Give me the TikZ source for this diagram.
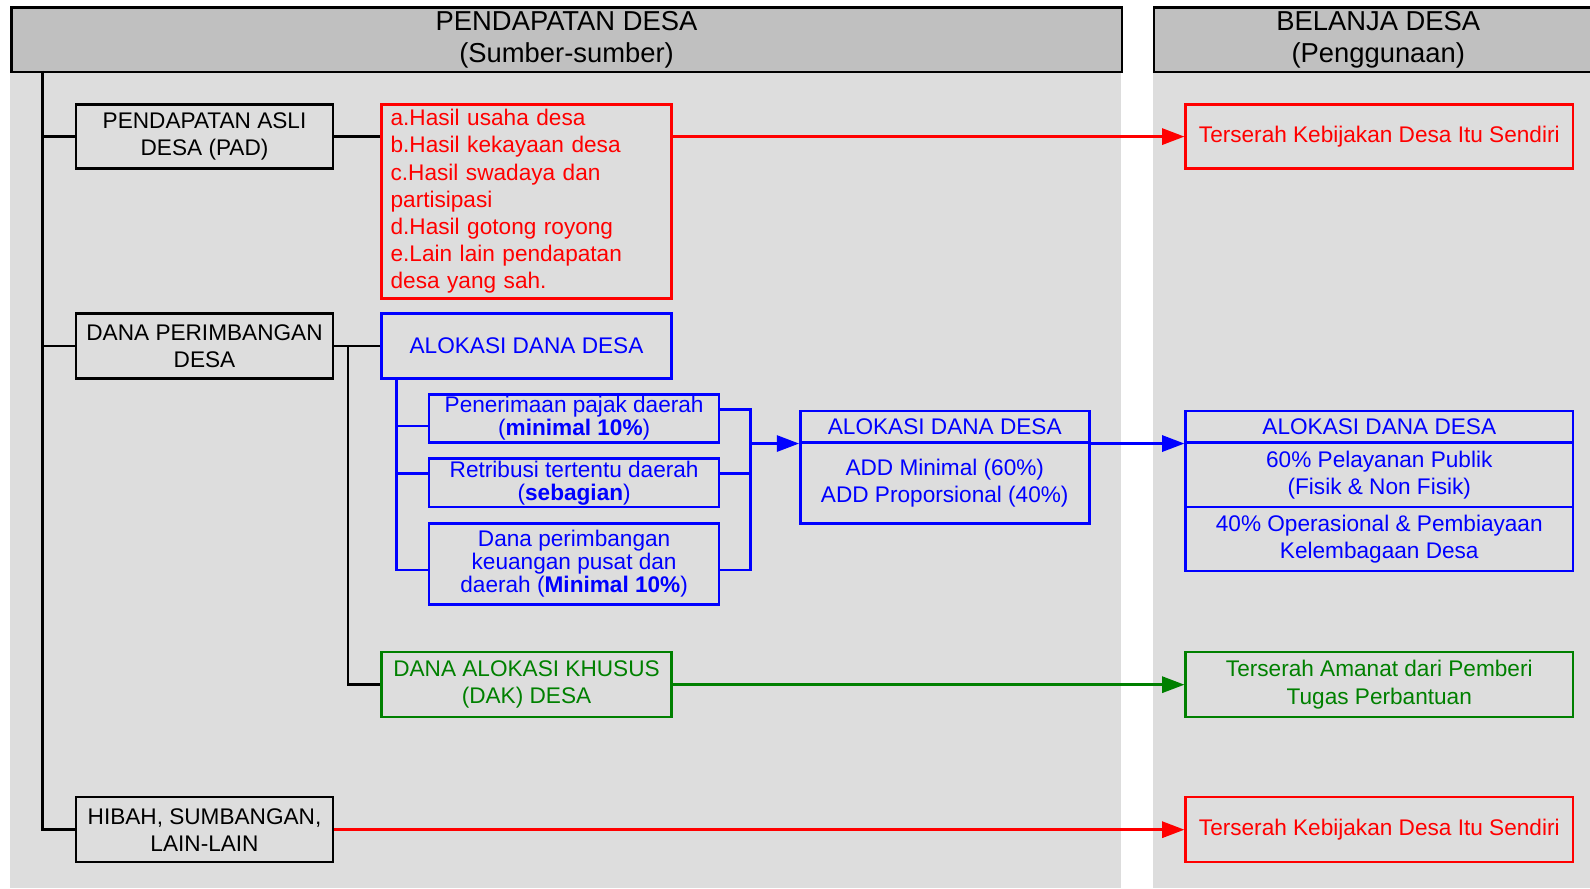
\documentclass[tikz,border=0pt]{standalone}
\usepackage{fontspec}
\setmainfont{Liberation Sans}
\usetikzlibrary{arrows.meta}
\definecolor{hdr}{HTML}{C0C0C0}
\definecolor{panel}{HTML}{DDDDDD}
\definecolor{dgreen}{HTML}{008000}
\definecolor{cred}{HTML}{FF0000}
\definecolor{cblue}{HTML}{0000FF}
\begin{document}
\begin{tikzpicture}[x=1pt,y=-1pt,
  every node/.style={font=\fontsize{22.3}{26.8}\selectfont},
  box/.style={draw, line width=2.4pt, anchor=north west, align=center, inner sep=2pt},
  blackbox/.style={box, draw=black, text=black},
  redbox/.style={box, draw=cred, text=cred},
  bluebox/.style={box, draw=cblue, text=cblue},
  greenbox/.style={box, draw=dgreen, text=dgreen},
  tight/.style={font=\fontsize{22.3}{22.8}\selectfont, inner ysep=0pt},
  hdrbox/.style={draw=black, fill=hdr, line width=2.4pt, anchor=north west, align=center, inner sep=0pt, font=\fontsize{27}{32}\selectfont},
  conn/.style={draw=black, line width=2.4pt},
  bl/.style={draw=cblue, line width=2.4pt},
  tip/.style={-{Triangle[length=22pt,width=16pt]}},
]
\useasboundingbox (0,0) rectangle (1568,876);
\clip (0,0) rectangle (1568,876);
\fill[white] (0,0) rectangle (1568,876);
% panels
\fill[panel] (10,6) rectangle (1105,876);
\fill[panel] (1137,6) rectangle (1600,876);
% headers
\node[hdrbox, minimum width=1095pt, minimum height=64pt] (hL) at (10,6) {PENDAPATAN DESA\\(Sumber-sumber)};
\node[hdrbox, minimum width=442pt, minimum height=64pt] (hR) at (1137,6) {BELANJA DESA\\(Penggunaan)};

% left column
\node[blackbox, minimum width=253pt, minimum height=63pt] (pad) at (74,102) {PENDAPATAN ASLI\\DESA (PAD)};
\node[blackbox, minimum width=253pt, minimum height=64pt] (dana) at (74,308) {DANA PERIMBANGAN\\DESA};
\node[blackbox, minimum width=253pt, minimum height=64pt] (hibah) at (74,785) {HIBAH, SUMBANGAN,\\LAIN-LAIN};

% second column
\node[redbox, minimum width=286pt, minimum height=191pt, align=left, text width=268pt, inner xsep=8pt] (list) at (375,102)
 {a.Hasil usaha desa\\b.Hasil kekayaan desa\\c.Hasil swadaya dan\\partisipasi\\d.Hasil gotong royong\\e.Lain lain pendapatan\\desa yang sah.};
\node[bluebox, minimum width=286pt, minimum height=64pt] (ald1) at (375,308) {ALOKASI DANA DESA};
\node[bluebox, tight, minimum width=286pt, minimum height=47pt] (pen) at (422,388) {Penerimaan pajak daerah\\(\textbf{minimal 10\%})};
\node[bluebox, tight, minimum width=286pt, minimum height=48pt] (ret) at (422,451) {Retribusi tertentu daerah\\(\textbf{sebagian})};
\node[bluebox, tight, minimum width=286pt, minimum height=80pt] (dpk) at (422,515) {Dana perimbangan\\keuangan pusat dan\\daerah (\textbf{Minimal 10\%})};
\node[greenbox, minimum width=286pt, minimum height=64pt] (dak) at (375,642) {DANA ALOKASI KHUSUS\\(DAK) DESA};

% ALOKASI DANA DESA (middle)
\node[bluebox, minimum width=285pt, minimum height=31pt, inner ysep=0pt] (a2t) at (788,404) {ALOKASI DANA DESA};
\node[bluebox, minimum width=285pt, minimum height=80pt] (a2b) at (788,435) {ADD Minimal (60\%)\\ADD Proporsional (40\%)};

% right column
\node[redbox, minimum width=382pt, minimum height=63pt] (r1) at (1168,102) {Terserah Kebijakan Desa Itu Sendiri};
\node[bluebox, minimum width=382pt, minimum height=31pt, inner ysep=0pt] (rbt) at (1168,404) {ALOKASI DANA DESA};
\node[bluebox, minimum width=382pt, minimum height=64pt] (rb1) at (1168,435) {60\% Pelayanan Publik\\(Fisik \& Non Fisik)};
\node[bluebox, minimum width=382pt, minimum height=63pt] (rb2) at (1168,499) {40\% Operasional \& Pembiayaan\\Kelembagaan Desa};
\node[greenbox, minimum width=382pt, minimum height=64pt] (rg) at (1168,642) {Terserah Amanat dari Pemberi\\Tugas Perbantuan};
\node[redbox, minimum width=382pt, minimum height=64pt] (r2) at (1168,785) {Terserah Kebijakan Desa Itu Sendiri};

% trunk
\coordinate (t0) at (42,70);
\draw[conn] (t0) |- (hibah.west);
\draw[conn] (t0 |- pad.west) -- (pad.west);
\draw[conn] (t0 |- dana.west) -- (dana.west);
\draw[conn] (pad.east) -- (list.west |- pad.east);
\draw[conn] (dana.east) -- (ald1.west);
\coordinate (j1) at (343,340);
\draw[conn] (j1) |- (dak.west);

% blue tree
\coordinate (b0) at (391,372);
\coordinate (bp) at (391,420);
\coordinate (br) at (391,467);
\coordinate (b1) at (391,562);
\draw[bl] (b0) -- (b1) -- (dpk.west |- b1);
\draw[bl] (bp) -- (pen.west |- bp);
\draw[bl] (br) -- (ret.west |- br);
\coordinate (jt) at (740,404);
\coordinate (jb) at (740,562);
\coordinate (jm) at (jt |- a2t.south west);
\coordinate (jr) at (740,467);
\draw[bl] (pen.east |- jt) -- (jt) -- (jb) -- (dpk.east |- jb);
\draw[bl] (ret.east |- jr) -- (jr);
\draw[bl, tip] (jm) -- (a2t.south west);
\draw[bl, tip] (a2t.south east) -- (rbt.south west);

% long arrows
\draw[draw=cred, line width=2.4pt, tip, color=cred] (list.east |- pad.east) -- (r1.west);
\draw[draw=dgreen, line width=2.4pt, tip, color=dgreen] (dak.east) -- (rg.west);
\draw[draw=cred, line width=2.4pt, tip, color=cred] (hibah.east) -- (r2.west);
\end{tikzpicture}
\end{document}
